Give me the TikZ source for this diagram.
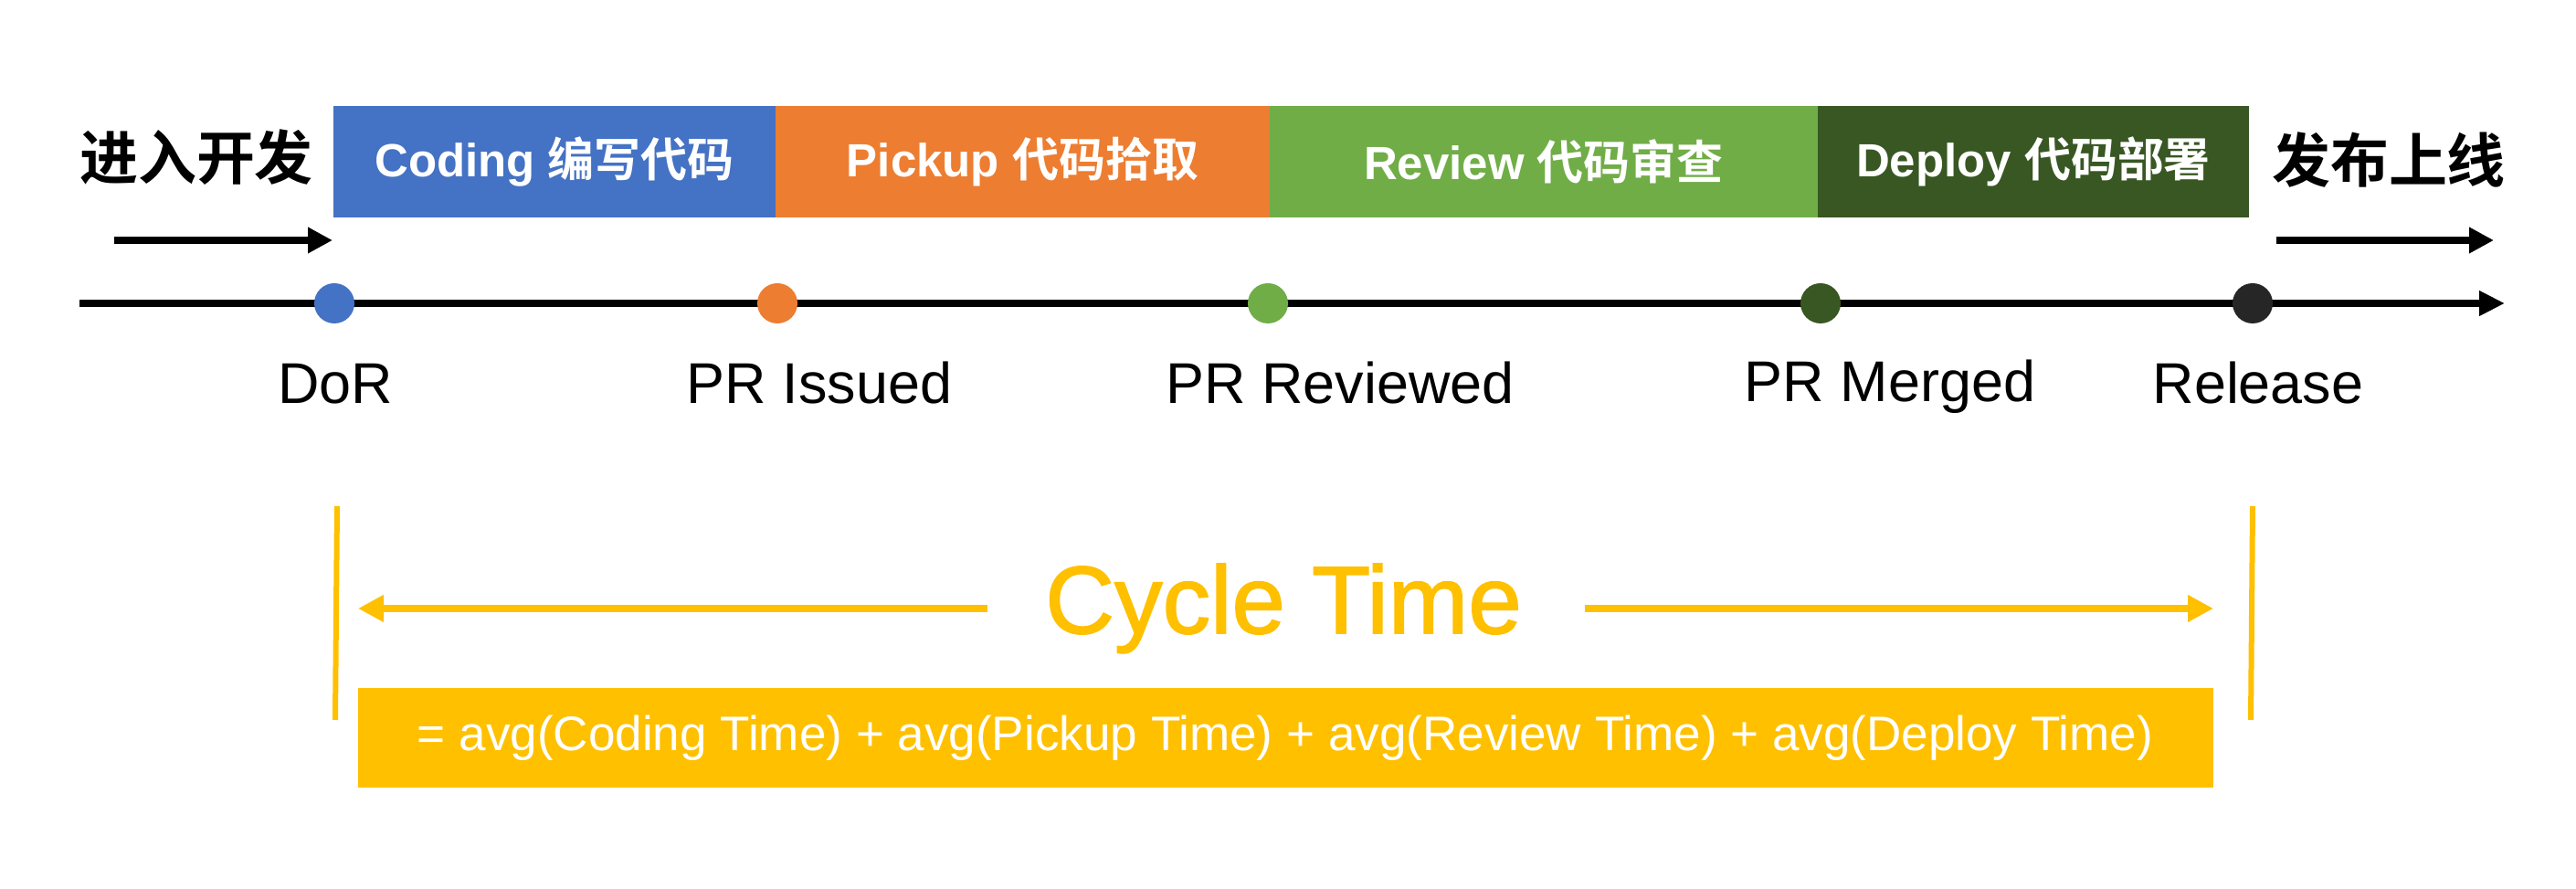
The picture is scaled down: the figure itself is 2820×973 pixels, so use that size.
\documentclass[tikz,border=0pt]{standalone}
\usepackage{fontspec}
\setmainfont{Liberation Sans}
\newfontfamily\cjk{Noto Sans CJK SC}[BoldFont={Noto Sans CJK SC Bold}]
\newfontfamily\heavysans{Liberation Sans}[FakeBold=1.5]
\usetikzlibrary{positioning,arrows.meta}
\definecolor{codeblue}{HTML}{4472C4}
\definecolor{pickorange}{HTML}{ED7D31}
\definecolor{revgreen}{HTML}{70AD47}
\definecolor{depgreen}{HTML}{385723}
\definecolor{reldark}{HTML}{262626}
\definecolor{cycyellow}{HTML}{FFC000}

\begin{document}
\begin{tikzpicture}[x=0.1mm,y=-0.1mm,
    bar/.style={rectangle,inner sep=0pt,outer sep=0pt,minimum height=12.2mm,
      text=white,font=\fontsize{14.5pt}{16pt}\selectfont\bfseries},
    dot/.style={circle,inner sep=0pt,minimum size=4.4mm},
    lbl/.style={anchor=base,inner sep=0pt,font=\fontsize{17.9pt}{20pt}\selectfont},
    side/.style={inner sep=0pt,font=\fontsize{18.2pt}{20pt}\selectfont\cjk\bfseries},
    blackarrow/.style={line width=0.8mm,-{Triangle[length=2.7mm,width=2.7mm]}},
    yarrow/.style={cycyellow,line width=0.8mm,-{Triangle[length=2.8mm,width=2.8mm]}}]
  \useasboundingbox (0,0) rectangle (2820,973);

  % phase bars
  \node[bar,fill=codeblue,minimum width=48.4mm] (coding) at (607,177) {Coding {\cjk\bfseries 编写代码}};
  \node[bar,fill=pickorange,minimum width=54.1mm,right=0pt of coding] (pickup) {Pickup {\cjk\bfseries 代码拾取}};
  \node[bar,fill=revgreen,minimum width=60mm,right=0pt of pickup] (review) {Review {\cjk\bfseries 代码审查}};
  \node[bar,fill=depgreen,minimum width=47.2mm,right=0pt of review] (deploy) {Deploy {\cjk\bfseries 代码部署}};

  \node[side] (enter) at (215,172) {进入开发};
  \node[side] (launch) at (2615,175) {发布上线};

  \coordinate (enterstart) at (125,263);
  \coordinate (enterend) at (364,263);
  \coordinate (launchstart) at (2492,263);
  \coordinate (launchend) at (2730,263);
  \draw[blackarrow] (enterstart) -- (enterend);
  \draw[blackarrow] (launchstart) -- (launchend);

  % timeline
  \coordinate (axisstart) at (87,332);
  \coordinate (axisend) at (2742,332);
  \draw[blackarrow,-{Triangle[length=2.8mm,width=2.6mm]}] (axisstart) -- (axisend);
  \node[dot,fill=codeblue] (dor) at (366,332) {};
  \node[dot,fill=pickorange] (issued) at (851,332) {};
  \node[dot,fill=revgreen] (reviewed) at (1388,332) {};
  \node[dot,fill=depgreen] (merged) at (1993,332) {};
  \node[dot,fill=reldark] (release) at (2466,332) {};

  \node[lbl] (dorlbl) at (367,442) {DoR};
  \node[lbl] (issuedlbl) at (897,442) {PR Issued};
  \node[lbl] (reviewedlbl) at (1467,442) {PR Reviewed};
  \node[lbl] (mergedlbl) at (2069,440) {PR Merged};
  \node[lbl] (releaselbl) at (2472,442) {Release};

  % cycle time
  \coordinate (lefttop) at (369,554);
  \coordinate (leftbot) at (367,788);
  \coordinate (righttop) at (2466,554);
  \coordinate (rightbot) at (2464,788);
  \draw[cycyellow,line width=0.6mm] (lefttop) -- (leftbot);
  \draw[cycyellow,line width=0.6mm] (righttop) -- (rightbot);

  \node[inner sep=0pt,text=cycyellow,font=\fontsize{29.9pt}{32pt}\selectfont\heavysans] (cycle) at (1405,666) {Cycle Time};
  \coordinate (lefttip) at (392,666);
  \coordinate (righttip) at (2423,666);
  \draw[yarrow] ([xshift=-6.3mm]cycle.west) -- (lefttip);
  \draw[yarrow] ([xshift=6.8mm]cycle.east) -- (righttip);

  \node[rectangle,fill=cycyellow,inner sep=0pt,minimum width=203.1mm,minimum height=10.9mm,
    text=white,font=\fontsize{15.1pt}{17pt}\selectfont] (formula) at (1407,808)
    {= avg(Coding Time) + avg(Pickup Time) + avg(Review Time) + avg(Deploy Time)};
\end{tikzpicture}
\end{document}
